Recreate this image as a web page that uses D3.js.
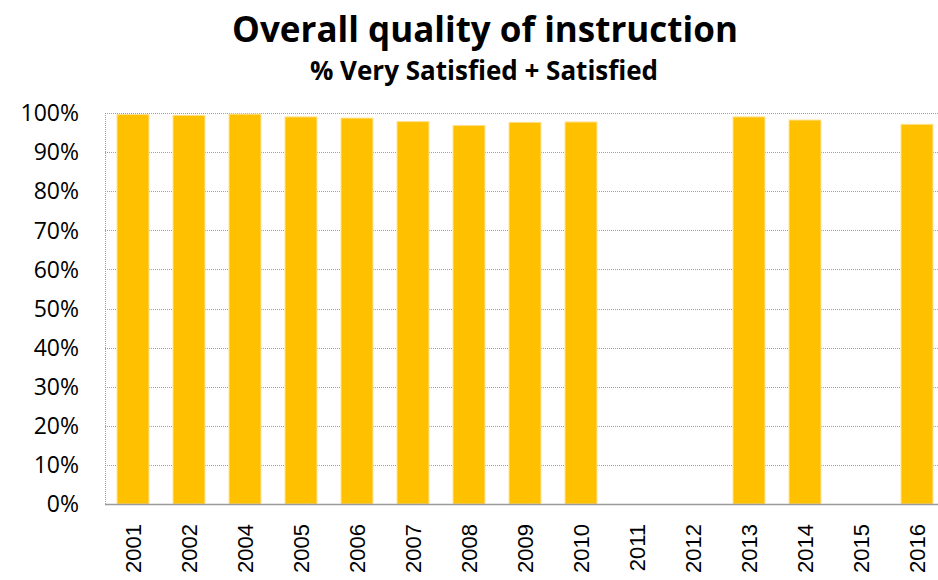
<!DOCTYPE html>
<html>
<head>
<meta charset="utf-8">
<script src="https://cdn.jsdelivr.net/npm/d3@7"></script>
<style>
  body { margin: 0; background: #fff; }
  svg { display: block; }
</style>
</head>
<body>
<div id="chart"></div>
<script>
// chart data
const years = ['2001', '2002', '2004', '2005', '2006', '2007', '2008', '2009', '2010', '2011', '2012', '2013', '2014', '2015', '2016'];
const satisfied = [0.996, 0.994, 0.997, 0.990, 0.987, 0.978, 0.968, 0.976, 0.977, null, null, 0.990, 0.982, null, 0.971];
const yTicks = [0, 0.1, 0.2, 0.3, 0.4, 0.5, 0.6, 0.7, 0.8, 0.9, 1.0];

const width = 938, height = 580;
const margin = { top: 113, left: 105, bottom: 76, right: -7 };

let svg = d3.select('#chart').append('svg')
  .attr('width', width)
  .attr('height', height);

let x = d3.scaleBand()
  .domain(years)
  .range([margin.left, width - margin.right])
  .paddingInner(0.43)
  .paddingOuter(0.215);

let y = d3.scaleLinear()
  .domain([0, 1])
  .range([height - margin.bottom, margin.top]);

// gridlines
svg.append('g')
  .selectAll('line')
  .data(yTicks.filter(d => d > 0))
  .enter()
  .append('line')
  .attr('x1', margin.left)
  .attr('x2', width)
  .attr('y1', d => Math.round(y(d)) + 0.5)
  .attr('y2', d => Math.round(y(d)) + 0.5)
  .attr('stroke', '#a0a0a0')
  .attr('stroke-dasharray', '1,1');

// left axis line (dotted)
svg.append('line')
  .attr('x1', margin.left + 0.5)
  .attr('x2', margin.left + 0.5)
  .attr('y1', y(1))
  .attr('y2', y(0))
  .attr('stroke', '#a0a0a0')
  .attr('stroke-dasharray', '1,1');

// bars
svg.append('g')
  .selectAll('rect')
  .data(years.map((d, i) => ({ year: d, value: satisfied[i] })).filter(d => d.value != null))
  .enter()
  .append('rect')
  .attr('x', d => x(d.year))
  .attr('width', x.bandwidth())
  .attr('y', d => y(d.value))
  .attr('height', d => y(0) - y(d.value))
  .attr('fill', '#FFC000')
  .attr('stroke', '#FFE08A')
  .attr('stroke-width', 1);

// baseline
svg.append('line')
  .attr('x1', margin.left)
  .attr('x2', width)
  .attr('y1', Math.round(y(0)) + 0.5)
  .attr('y2', Math.round(y(0)) + 0.5)
  .attr('stroke', '#9a9a9a')
  .attr('stroke-width', 1.5);

// y labels
svg.append('g')
  .selectAll('text')
  .data(yTicks)
  .enter()
  .append('text')
  .attr('x', 79)
  .attr('y', d => y(d))
  .attr('dy', '0.36em')
  .attr('text-anchor', 'end')
  .attr('font-family', '"Open Sans", sans-serif')
  .attr('font-size', 23)
  .attr('fill', '#000')
  .text(d => d3.format('.0%')(d));

// x labels, rotated
svg.append('g')
  .selectAll('text')
  .data(years)
  .enter()
  .append('text')
  .attr('transform', d => 'translate(' + [x(d) + x.bandwidth() / 2, 524] + ') rotate(-90)')
  .attr('dy', '0.36em')
  .attr('text-anchor', 'end')
  .attr('font-family', '"Liberation Sans", Arial, sans-serif')
  .attr('font-size', 22)
  .attr('fill', '#000')
  .text(d => d);

// titles
svg.append('text')
  .attr('x', 485)
  .attr('y', 42)
  .attr('text-anchor', 'middle')
  .attr('font-family', '"Open Sans", sans-serif')
  .attr('font-weight', 'bold')
  .attr('font-size', 35)
  .text('Overall quality of instruction');

svg.append('text')
  .attr('x', 484)
  .attr('y', 80)
  .attr('text-anchor', 'middle')
  .attr('font-family', '"Open Sans", sans-serif')
  .attr('font-weight', 'bold')
  .attr('font-size', 26)
  .text('% Very Satisfied + Satisfied');
</script>
</body>
</html>
